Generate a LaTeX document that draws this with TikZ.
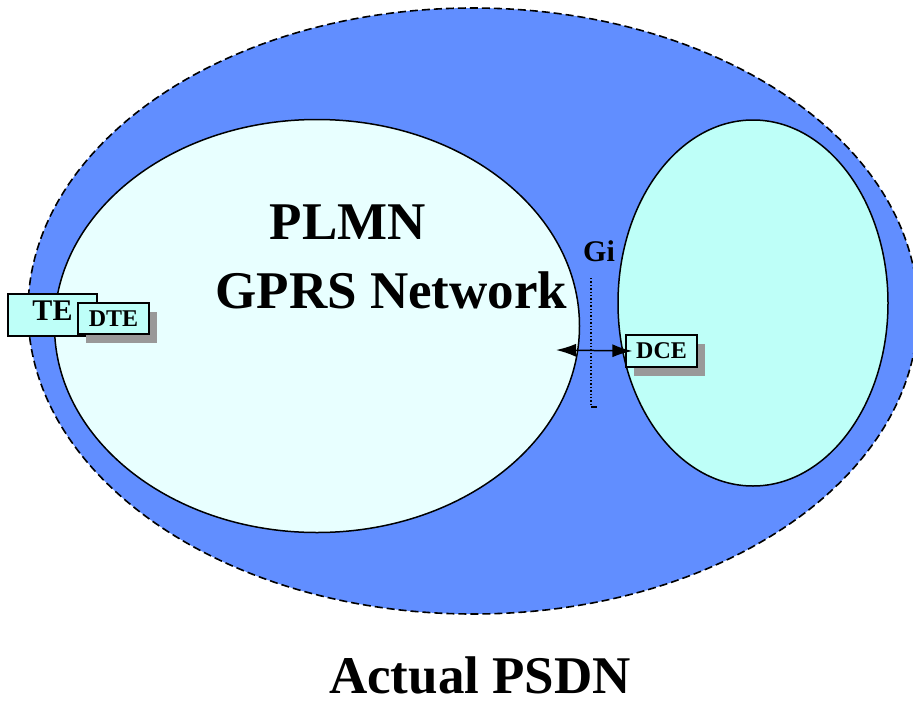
\documentclass[tikz,border=0pt]{standalone}
\usepackage{fontspec}
\setmainfont{Liberation Serif}
\usetikzlibrary{shapes.geometric,shadows,arrows.meta}

\definecolor{psdnblue}{RGB}{97,142,255}
\definecolor{plmnfill}{RGB}{232,255,255}
\definecolor{netfill}{RGB}{190,255,248}

\begin{document}
\begin{tikzpicture}[x=1pt, y=-1pt]

    \tikzset{area/.style={draw, shape=ellipse, line width=1.5pt, inner sep=0pt},
             termbox/.style={draw, fill=netfill, line width=1.3pt, inner sep=0pt,
                 font=\bfseries\fontsize{24}{24}\selectfont},
             shadowbox/.style={termbox, drop shadow={shadow xshift=8pt, shadow yshift=-9pt,
                 fill=black!40, opacity=1}},
             bigtext/.style={font=\bfseries\fontsize{53}{53}\selectfont, inner sep=0pt},
             gitip/.tip={Latex[length=20pt,width=13pt]}}

    \useasboundingbox (0,0) rectangle (913,704);
    \clip (0,0) rectangle (913,704);

    % actual PSDN
    \node[area, fill=psdnblue, line width=1.6pt, dash pattern=on 8pt off 4pt,
          minimum width=890pt, minimum height=606pt] (psdn) at (473,311) {};

    % PLMN and external network
    \node[area, fill=plmnfill, minimum width=525pt, minimum height=413pt] (plmn) at (317,326) {};
    \node[area, fill=netfill, minimum width=270pt, minimum height=366pt] (ext) at (753,303) {};

    \node[bigtext] (t1) at (348,222.5) {PLMN};
    \node[bigtext] (t2) at (391.5,290.5) {GPRS Network};
    \node[bigtext] (t3) at (480,675) {Actual PSDN};

    % terminals
    \node[termbox, minimum width=89pt, minimum height=42pt,
          font=\bfseries\fontsize{30}{30}\selectfont] (te) at (52.5,315) {\raisebox{8pt}{TE}};
    \node[shadowbox, minimum width=71pt, minimum height=31pt] (dte) at (113.5,318.5) {DTE};
    \node[shadowbox, minimum width=71pt, minimum height=32pt] (dce) at (661.5,351) {DCE};

    % Gi reference point
    \node[font=\bfseries\fontsize{30}{30}\selectfont, inner sep=0pt] (gi) at (599,251) {Gi};
    \coordinate (gitop) at (591,278);
    \coordinate (gibot) at (591,407);
    \draw[line width=1.4pt, dotted] (gitop) -- (gibot);
    \draw[line width=1.4pt] (gibot) -- ++(6,0);

    \coordinate (gileft) at (556,350);
    \draw[gitip-gitip, line width=1.5pt] (gileft) -- ([xshift=7pt]dce.west);
\end{tikzpicture}
\end{document}
